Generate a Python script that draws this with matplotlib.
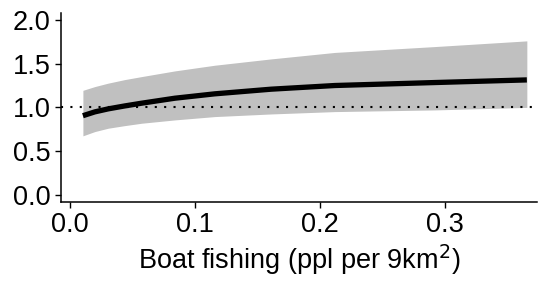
import numpy as np
import matplotlib
matplotlib.use('Agg')
import matplotlib.pyplot as plt

plt.rcParams['font.family'] = ['Liberation Sans', 'DejaVu Sans']

# fitted effect of boat fishing density
boat_x = [0.0104, 0.02, 0.0306, 0.044, 0.0574, 0.084, 0.116, 0.161, 0.212, 0.292, 0.3656]
fit_y  = [0.905, 0.949, 0.983, 1.017, 1.048, 1.105, 1.155, 1.208, 1.25, 1.284, 1.314]
upr_y  = [1.195, 1.238, 1.277, 1.318, 1.352, 1.417, 1.482, 1.554, 1.628, 1.695, 1.76]
lwr_y  = [0.675, 0.724, 0.762, 0.792, 0.819, 0.857, 0.895, 0.925, 0.952, 0.971, 1.0]
xticks = [0.0, 0.1, 0.2, 0.3]
yticks = [0.0, 0.5, 1.0, 1.5, 2.0]

fig = plt.figure(figsize=(5.39, 2.86), dpi=100)
ax = fig.add_axes([0.113, 0.294, 0.883, 0.661])

ax.fill_between(boat_x, lwr_y, upr_y, color='#c0c0c0', linewidth=0)
ax.axhline(1.0, color='black', linestyle=(0, (1, 3.5)), linewidth=1.5)
ax.plot(boat_x, fit_y, color='black', linewidth=3.8, solid_capstyle='butt')

ax.set_xlim(-0.0072, 0.3736)
ax.set_ylim(-0.08, 2.08)
ax.set_xticks(xticks)
ax.set_xticklabels([f'{v:.1f}' for v in xticks])
ax.set_yticks(yticks)
ax.set_yticklabels([f'{v:.1f}' for v in yticks])
ax.tick_params(labelsize=19.5, length=4.5, width=1, direction='out')
ax.tick_params(axis='x', pad=3)
ax.tick_params(axis='y', pad=3)
for s in ['top', 'right']:
    ax.spines[s].set_visible(False)
for s in ['left', 'bottom']:
    ax.spines[s].set_linewidth(1.1)
ax.set_xlabel('Boat fishing (ppl per 9km$^2$)', fontsize=19.5, labelpad=3)

fig.savefig('out.png', dpi=100)
